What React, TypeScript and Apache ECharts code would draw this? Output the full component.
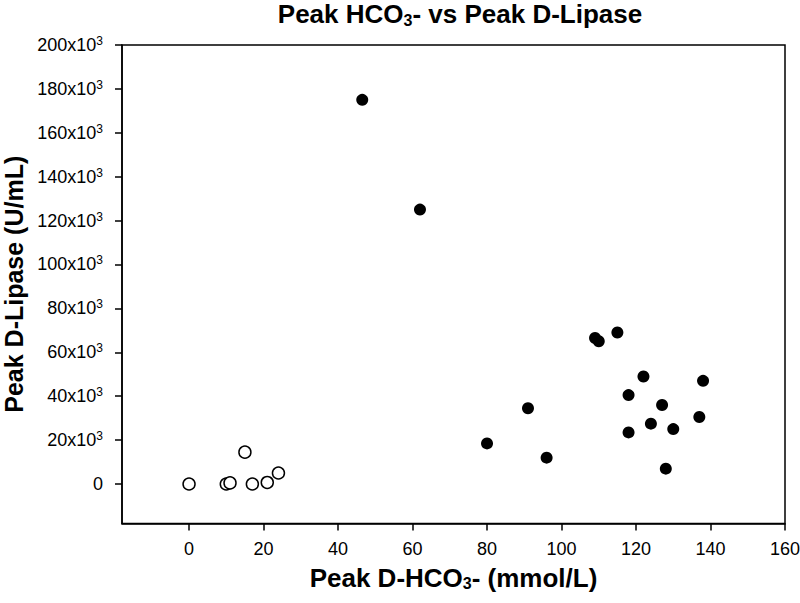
import React, { useEffect, useRef } from "react";
import * as echarts from "echarts";

const openX = [0, 10, 11, 15, 17, 21, 24];
const openY = [0, 0, 500, 14500, 0, 700, 5000];
const filledX = [46.5, 62, 80, 91, 96, 109, 110, 115, 118, 118, 122, 124, 127, 128, 130, 137, 138];
const filledY = [175000, 125000, 18500, 34500, 12000, 66500, 65000, 69000, 40500, 23500, 49000, 27500, 36000, 7000, 25000, 30500, 47000];
const xTicks = [0, 20, 40, 60, 80, 100, 120, 140, 160];
const yTicks = [0, 20000, 40000, 60000, 80000, 100000, 120000, 140000, 160000, 180000, 200000];

const FONT = "'Liberation Sans', Arial, sans-serif";

const subStyle = { fontFamily: FONT, fontSize: 16, fontWeight: "bold", color: "#000", verticalAlign: "bottom", padding: [12, 0, 0, 0] };

export default function App() {
  const ref = useRef<HTMLDivElement>(null);
  useEffect(() => {
    if (!ref.current) return;
    const chart = echarts.init(ref.current, null, { renderer: "svg" });
    const openData = openX.map((x, i) => [x, openY[i]]);
    const filledData = filledX.map((x, i) => [x, filledY[i]]);
    chart.setOption({
      animation: false,
      backgroundColor: "#ffffff",
      title: {
        text: "Peak HCO{sub|3}- vs Peak D-Lipase",
        left: 455,
        top: -5,
        textAlign: "center",
        textStyle: {
          fontFamily: FONT,
          fontSize: 26,
          fontWeight: "bold",
          color: "#000",
          rich: { sub: subStyle },
        },
      },
      grid: {
        left: 122,
        right: 15,
        top: 45,
        bottom: 79.5,
        show: true,
        borderColor: "#000",
        borderWidth: 1.5,
        backgroundColor: "transparent",
        outerBoundsMode: "none",
        containLabel: false,
      },
      xAxis: {
        type: "value",
        min: -18,
        max: 160,
        name: "Peak D-HCO{sub|3}- (mmol/L)",
        nameLocation: "middle",
        nameGap: 40,
        nameTextStyle: {
          fontFamily: FONT,
          fontSize: 26,
          fontWeight: "bold",
          color: "#000",
          rich: { sub: subStyle },
        },
        axisLine: { show: true, onZero: false, lineStyle: { color: "#000", width: 1.5 } },
        axisTick: { show: true, inside: false, length: 7, lineStyle: { color: "#000", width: 1.5 }, customValues: xTicks },
        axisLabel: {
          fontFamily: FONT,
          fontSize: 18,
          color: "#000",
          margin: 16,
          customValues: xTicks,
          formatter: (v: number) => String(v),
        },
        splitLine: { show: false },
      },
      yAxis: {
        type: "value",
        min: -18000,
        max: 200000,
        name: "Peak D-Lipase (U/mL)",
        nameLocation: "middle",
        nameGap: 94,
        nameRotate: 90,
        nameTextStyle: { fontFamily: FONT, fontSize: 25, fontWeight: "bold", color: "#000" },
        axisLine: { show: true, onZero: false, lineStyle: { color: "#000", width: 1.5 } },
        axisTick: { show: true, inside: false, length: 7, lineStyle: { color: "#000", width: 1.5 }, customValues: yTicks },
        axisLabel: {
          fontFamily: FONT,
          fontSize: 18,
          color: "#000",
          margin: 19,
          customValues: yTicks,
          formatter: (v: number) => (v === 0 ? "{b|0}" : `{b|${v / 1000}x10}{sup|3}`),
          rich: {
            b: { fontFamily: FONT, fontSize: 18, color: "#000", lineHeight: 20, verticalAlign: "middle" },
            sup: { fontFamily: FONT, fontSize: 12, color: "#000", lineHeight: 12, verticalAlign: "top" },
          },
        },
        splitLine: { show: false },
      },
      series: [
        {
          type: "scatter",
          data: filledData,
          symbol: "circle",
          symbolSize: 12,
          itemStyle: { color: "#000", borderColor: "#000", borderWidth: 0, opacity: 1 },
        },
        {
          type: "scatter",
          data: openData,
          symbol: "circle",
          symbolSize: 12,
          itemStyle: { color: "#fff", borderColor: "#000", borderWidth: 1.5, opacity: 1 },
        },
      ],
    });
    return () => chart.dispose();
  }, []);
  return <div ref={ref} style={{ width: 800, height: 603, position: "absolute", left: 0, top: 0 }} />;
}
